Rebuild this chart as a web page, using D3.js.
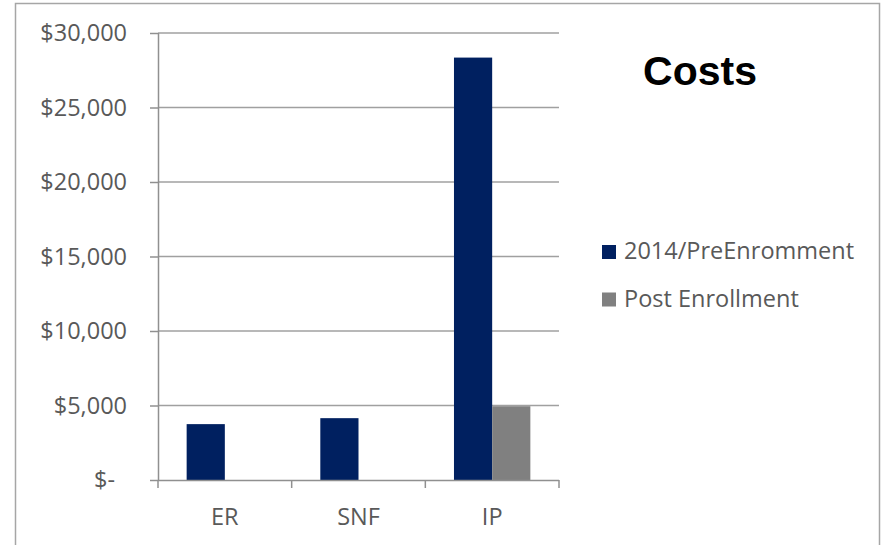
<!DOCTYPE html>
<html>
<head>
<meta charset="utf-8">
<script src="https://cdn.jsdelivr.net/npm/d3@7"></script>
<style>
  body { margin: 0; background: #fff; }
  svg text { font-family: "Open Sans", sans-serif; fill: #595959; }
</style>
</head>
<body>
<svg width="883" height="545"></svg>
<script>
// Chart data
const categories = ["ER", "SNF", "IP"];
const seriesNames = ["2014/PreEnromment", "Post Enrollment"];
const preValues = [3750, 4150, 28350];
const postValues = [0, 0, 4950];
const yTicks = [0, 5000, 10000, 15000, 20000, 25000, 30000];
const colors = ["#002060", "#808080"];

const svg = d3.select("svg");

// outer chart frame
svg.append("rect")
  .attr("x", 15.5).attr("y", 3.5)
  .attr("width", 864).attr("height", 560)
  .attr("fill", "none")
  .attr("stroke", "#a6a6a6")
  .attr("stroke-width", 1.5);

const plot = { left: 158, right: 559, top: 33, bottom: 480 };

const x0 = d3.scaleBand().domain(categories).range([plot.left, plot.right]).padding(0);
// Excel-like gap width 150%: two bars + 1.5 bar widths of gap
const barW = x0.bandwidth() / 3.5;
const x1 = d3.scaleBand().domain(seriesNames)
  .range([barW * 0.75, barW * 2.75]).padding(0);

const y = d3.scaleLinear().domain([0, 30000]).range([plot.bottom, plot.top]);

// gridlines
svg.append("g")
  .selectAll("line")
  .data(yTicks.slice(1))
  .join("line")
  .attr("x1", plot.left).attr("x2", plot.right)
  .attr("y1", d => y(d)).attr("y2", d => y(d))
  .attr("stroke", "#a0a0a0").attr("stroke-width", 1.5);

// bars
const rows = categories.map((c, i) => ({ cat: c, vals: [preValues[i], postValues[i]] }));
svg.append("g")
  .selectAll("g")
  .data(rows)
  .join("g")
  .attr("transform", d => `translate(${x0(d.cat)},0)`)
  .selectAll("rect")
  .data(d => d.vals.map((v, j) => ({ name: seriesNames[j], v, j })).filter(e => e.v > 0))
  .join("rect")
  .attr("x", d => x1(d.name))
  .attr("width", x1.bandwidth())
  .attr("y", d => y(d.v))
  .attr("height", d => y(0) - y(d.v))
  .attr("fill", d => colors[d.j]);

// y axis
const yAxis = svg.append("g")
  .attr("transform", `translate(${plot.left},0)`)
  .call(d3.axisLeft(y).tickValues(yTicks).tickSize(8).tickPadding(23)
    .tickFormat(d => d === 0 ? "$-" : "$" + d3.format(",")(d)));
yAxis.selectAll("path, line").attr("stroke", "#909090").attr("stroke-width", 1.5);
yAxis.select(".domain").attr("d", `M0.5,${plot.top}V${plot.bottom}`);
yAxis.selectAll("text")
  .style("font-size", "23.5px")
  .attr("fill", "#595959")
  .attr("dx", d => d === 0 ? -12 : 0);

// x axis
const xAxis = svg.append("g")
  .attr("transform", `translate(0,${plot.bottom})`)
  .call(d3.axisBottom(x0).tickSize(0).tickPadding(28));
xAxis.select(".domain").attr("d", `M${plot.left},0.5H${plot.right}`)
  .attr("stroke", "#909090").attr("stroke-width", 1.5);
xAxis.selectAll("text").style("font-size", "23.5px").attr("fill", "#595959");
xAxis.selectAll(".sep")
  .data(d3.range(categories.length + 1))
  .join("line")
  .attr("class", "sep")
  .attr("x1", i => plot.left + i * x0.bandwidth())
  .attr("x2", i => plot.left + i * x0.bandwidth())
  .attr("y1", 0).attr("y2", 8)
  .attr("stroke", "#909090").attr("stroke-width", 1.5);

// title
svg.append("text")
  .attr("x", 700).attr("y", 85)
  .attr("text-anchor", "middle")
  .style("font-family", "'Liberation Sans', Arial, sans-serif")
  .style("font-weight", "bold")
  .style("font-size", "41px")
  .style("fill", "#000")
  .text("Costs");

// legend
const legend = svg.append("g")
  .selectAll("g")
  .data(seriesNames)
  .join("g")
  .attr("transform", (d, i) => `translate(602,${245 + i * 47.5})`);
legend.append("rect")
  .attr("width", 14).attr("height", 14)
  .attr("fill", (d, i) => colors[i]);
legend.append("text")
  .attr("x", 22).attr("y", 14)
  .style("font-size", "23.5px")
  .text(d => d);
</script>
</body>
</html>
